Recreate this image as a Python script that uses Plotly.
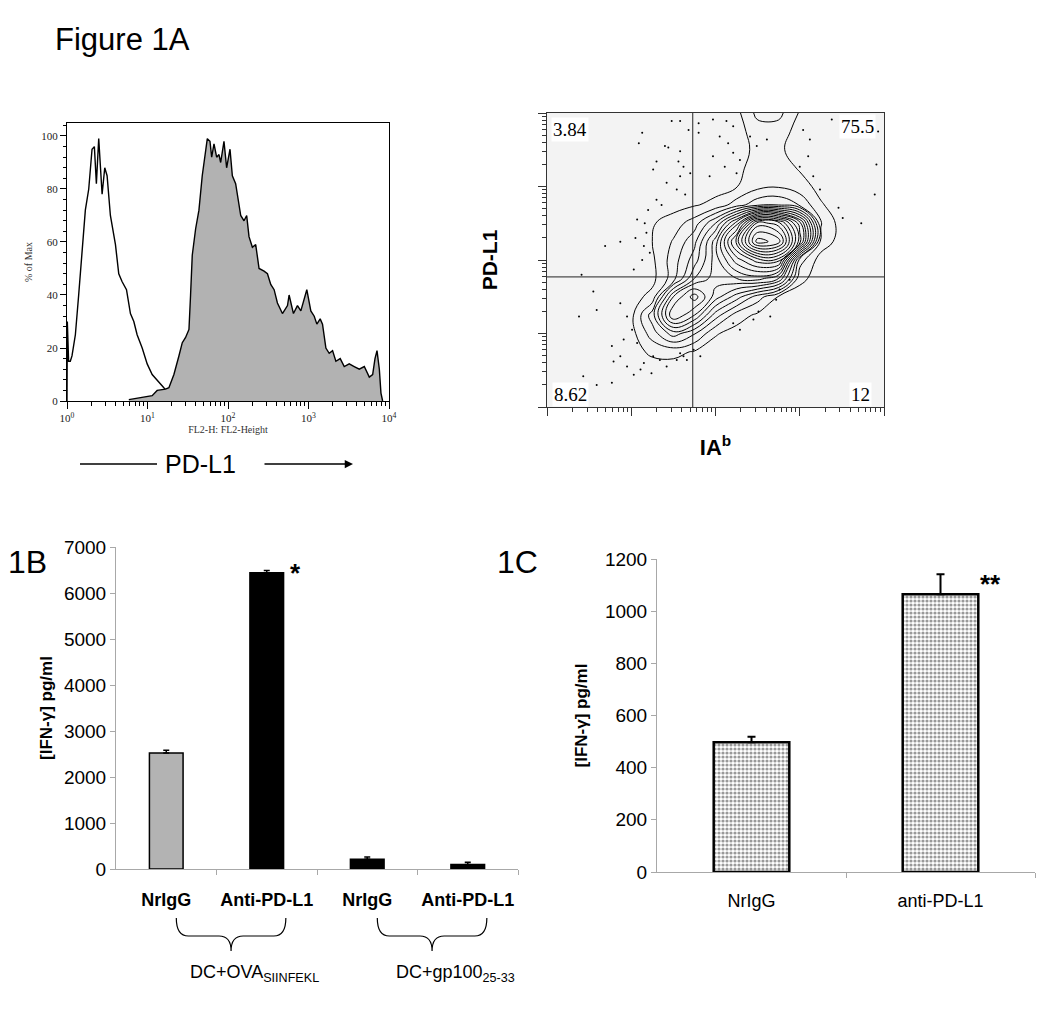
import math
import plotly.graph_objects as go

W, H = 1050, 1009
SANS = "Liberation Sans"
SERIF = "Liberation Serif"

# ---------------- Panel 1A (left): PD-L1 histogram (log10 fluorescence, % of max) ----------------
ctrl_log = [0.0, 0.004, 0.02, 0.041, 0.062, 0.104, 0.145, 0.187, 0.228, 0.27, 0.311, 0.34, 0.365,
            0.394, 0.436, 0.469, 0.498, 0.539, 0.602, 0.643, 0.685, 0.739, 0.788, 0.83, 0.871,
            0.934, 0.996, 1.058, 1.141, 1.203, 1.266, 1.328, 1.41]
ctrl_pct = [0, 30, 15, 15, 17, 25, 40, 55, 72, 80, 95, 96, 82, 99, 78, 88, 85, 70, 59, 48, 45, 42,
            33, 30, 25, 20, 14, 10, 7, 5, 3, 1, 0]

pdl1_log = [0.768, 0.871, 0.996, 1.058, 1.12, 1.224, 1.266, 1.328, 1.39, 1.432, 1.473, 1.515, 1.535,
            1.556, 1.598, 1.639, 1.68, 1.722, 1.743, 1.776, 1.797, 1.826, 1.859, 1.888, 1.909, 1.95,
            1.983, 2.025, 2.054, 2.095, 2.124, 2.158, 2.199, 2.232, 2.261, 2.303, 2.344, 2.386,
            2.448, 2.49, 2.531, 2.573, 2.614, 2.676, 2.739, 2.759, 2.813, 2.863, 2.905, 2.946,
            2.979, 3.029, 3.071, 3.104, 3.145, 3.174, 3.216, 3.257, 3.299, 3.34, 3.394, 3.444,
            3.506, 3.568, 3.631, 3.693, 3.755, 3.797, 3.826, 3.851, 3.88, 3.9, 3.921]
pdl1_pct = [0.5, 1, 1.5, 2, 4, 4.5, 5, 10, 17, 22, 24, 27, 40, 55, 65, 72, 85, 95, 99, 98, 92, 97,
            92, 93, 90, 98, 88, 95, 85, 82, 77, 70, 68, 70, 62, 58, 59, 50, 49, 48, 44, 42, 37, 33,
            36, 40, 33, 36, 34, 38, 42, 34, 32, 29, 31, 29, 20, 18, 19, 15, 16, 13, 14, 13, 12, 13,
            9, 10, 16, 19, 12, 3, 0]
hist_decades = [0, 1, 2, 3, 4]
hist_ticktext = ["10<sup>0</sup>", "10<sup>1</sup>", "10<sup>2</sup>", "10<sup>3</sup>", "10<sup>4</sup>"]
pct_ticks = [0, 20, 40, 60, 80, 100]

# ---------------- Panel 1A (right): IAb vs PD-L1 contour (log10 decades) ----------------
grid_x = [0.75, 1.0, 1.25, 1.5, 1.75, 2.0, 2.25, 2.5, 2.75, 3.0, 3.25, 3.5, 3.75]
grid_y = [0.25, 0.5, 0.75, 1.0, 1.25, 1.5, 1.75, 2.0, 2.25, 2.5, 2.75, 3.0, 3.25, 3.5, 3.75, 4.0]
density = [
    [0, 0, 0, 0, 0, 0, 0, 0, 0, 0, 0, 0, 0],
    [0, 0, 0, 0, 0, 0, 0, 0, 0, 0, 0, 0, 0],
    [0, 0.1, 0.7, 0.8, 0.4, 0, 0, 0, 0, 0, 0, 0, 0],
    [0, 0.1, 2.0, 4.0, 2.6, 0.6, 0.1, 0, 0, 0, 0, 0, 0],
    [0, 0.2, 3.0, 8.5, 6.5, 3.0, 1.0, 0.3, 0, 0, 0, 0, 0],
    [0, 0.1, 0.8, 6.5, 9.0, 6.0, 4.0, 2.0, 0.4, 0, 0, 0, 0],
    [0, 0, 0.2, 2.0, 5.5, 7.0, 7.5, 8.0, 6.5, 0.8, 0, 0, 0],
    [0, 0, 0.3, 2.0, 4.0, 7.0, 10, 12, 12, 2.0, 0, 0, 0],
    [0, 0, 0.5, 1.6, 3.2, 7.0, 13, 19, 18, 11, 1.2, 0, 0],
    [0, 0, 0.4, 1.0, 2.0, 4.5, 9, 16, 15, 10, 1.6, 0, 0],
    [0, 0, 0, 0.1, 0.4, 0.8, 2.0, 3.2, 3.4, 2.4, 0.6, 0, 0],
    [0, 0, 0, 0, 0, 0.1, 0.45, 1.2, 1.4, 0.9, 0.2, 0, 0],
    [0, 0, 0, 0, 0, 0, 0.2, 1.0, 1.0, 0.4, 0, 0, 0],
    [0, 0, 0, 0, 0, 0, 0, 0.8, 0.7, 0, 0, 0, 0],
    [0, 0, 0, 0, 0, 0, 0.1, 1.0, 1.0, 0.1, 0, 0, 0],
    [0, 0, 0, 0, 0, 0, 0.2, 1.8, 1.8, 0.4, 0, 0, 0],
]
dots_x = [1.48, 1.58, 1.68, 1.80, 1.80, 1.13, 1.09, 1.40, 1.44, 1.58, 1.30, 1.26, 1.56, 1.62, 1.70,
          1.58, 1.42, 1.54, 1.64, 1.30, 1.36, 1.20, 1.07, 1.16, 1.18, 1.05, 0.87, 1.15, 0.69, 1.22,
          1.13, 1.03, 0.41, 0.55, 0.38, 0.59, 0.87, 0.95, 1.01, 0.77, 0.79, 0.87, 0.95, 1.03, 1.15,
          1.24, 1.34, 1.42, 1.54, 1.62, 1.26, 0.59, 0.77, 0.43, 1.11, 0.91, 1.07,
          1.97, 2.13, 2.21, 2.05, 2.15, 2.21, 2.11, 2.25, 2.29, 1.97, 1.93, 2.41, 2.49, 2.61, 3.04,
          3.12, 3.38, 3.10, 3.00, 3.16, 3.24, 3.46, 3.51, 3.73, 3.89, 3.91, 3.93,
          2.88, 2.76, 2.72, 2.65, 2.45, 2.29, 2.21, 2.51, 1.74, 1.82, 1.66, 1.58]
dots_y = [3.89, 3.89, 3.77, 3.86, 3.73, 3.73, 3.59, 3.55, 3.53, 3.48, 3.34, 3.23, 3.34, 3.27, 3.18,
          3.14, 3.05, 2.96, 2.89, 2.82, 2.75, 2.68, 2.55, 2.50, 2.37, 2.30, 2.25, 2.19, 2.19, 2.10,
          2.00, 1.87, 1.80, 1.57, 1.23, 1.32, 1.41, 1.23, 1.05, 0.83, 0.62, 0.69, 0.55, 0.44, 0.60,
          0.46, 0.64, 0.55, 0.64, 0.69, 0.69, 0.30, 0.33, 0.42, 0.51, 0.92, 0.87,
          3.91, 3.89, 3.82, 3.68, 3.59, 3.46, 3.27, 3.18, 3.36, 3.41, 3.14, 3.68, 3.55, 3.64, 3.77,
          3.64, 3.91, 3.41, 3.27, 3.14, 2.96, 2.71, 2.57, 2.50, 2.89, 3.30, 3.75,
          1.73, 1.60, 1.46, 1.23, 1.19, 1.05, 1.14, 1.30, 0.78, 0.69, 0.64, 0.73]
gate_x = 1.73
gate_y = 1.77
quad_labels = ["3.84", "75.5", "8.62", "12"]

# ---------------- Panel 1B ----------------
b_labels = ["NrIgG", "Anti-PD-L1", "NrIgG", "Anti-PD-L1"]
b_vals = [2520, 6440, 210, 100]
b_err = [60, 50, 50, 45]
b_colors = ["#b3b3b3", "black", "black", "black"]
b_groups = ["DC+OVA<sub>SIINFEKL</sub>", "DC+gp100<sub>25-33</sub>"]
b_group_members = [(0, 1), (2, 3)]
b_ticks = [0, 1000, 2000, 3000, 4000, 5000, 6000, 7000]

# ---------------- Panel 1C ----------------
c_labels = ["NrIgG", "anti-PD-L1"]
c_vals = [497, 1065]
c_err = [22, 77]
c_ticks = [0, 200, 400, 600, 800, 1000, 1200]


def px(v):
    return v / W


def py(v):
    return 1 - v / H


minor_log = [d + math.log10(k) for d in range(4) for k in range(2, 10)]

fig = go.Figure()

# histogram
fig.add_trace(go.Scatter(x=ctrl_log, y=ctrl_pct, mode="lines", line=dict(color="black", width=1.4),
                         xaxis="x", yaxis="y", showlegend=False, hoverinfo="skip"))
fig.add_trace(go.Scatter(x=pdl1_log, y=pdl1_pct, mode="lines", fill="tozeroy", fillcolor="#b2b2b2",
                         line=dict(color="black", width=1.4), xaxis="x", yaxis="y",
                         showlegend=False, hoverinfo="skip"))

# contour panel
fig.add_trace(go.Scatter(x=dots_x, y=dots_y, mode="markers", marker=dict(color="black", size=2),
                         xaxis="x2", yaxis="y2", showlegend=False, hoverinfo="skip"))
fig.add_trace(go.Contour(x=grid_x, y=grid_y, z=density, xaxis="x2", yaxis="y2", autocontour=False,
                         contours=dict(start=0.5, end=18.5, size=1, coloring="lines"),
                         colorscale=[[0, "black"], [1, "black"]], showscale=False,
                         line=dict(width=1, smoothing=1.2), hoverinfo="skip"))

# 1B bars
fig.add_trace(go.Bar(x=list(range(len(b_vals))), y=b_vals, width=0.335, xaxis="x3", yaxis="y3",
                     marker=dict(color=b_colors, line=dict(color="black", width=1.5)),
                     error_y=dict(type="data", symmetric=False, array=b_err,
                                  arrayminus=[0] * len(b_err), color="black", thickness=1.5, width=3),
                     showlegend=False, hoverinfo="skip"))

# 1C bars
fig.add_trace(go.Bar(x=list(range(len(c_vals))), y=c_vals, width=0.4, xaxis="x4", yaxis="y4",
                     marker=dict(color="white",
                                 pattern=dict(shape=".", fgcolor="#333333", bgcolor="white",
                                              size=4, solidity=0.5),
                                 line=dict(color="black", width=2.5)),
                     error_y=dict(type="data", symmetric=False, array=c_err,
                                  arrayminus=[0] * len(c_err), color="black", thickness=2, width=4),
                     showlegend=False, hoverinfo="skip"))

gray = "#a8a8a8"
fig.update_layout(
    width=W, height=H, autosize=False,
    margin=dict(l=0, r=0, t=0, b=0, pad=0, autoexpand=False),
    paper_bgcolor="white", plot_bgcolor="white",
    font=dict(family=SANS, color="black"),
    xaxis=dict(domain=[px(67), px(389)], anchor="y", range=[0, 4], showline=True, mirror=True,
               linecolor="black", linewidth=1, ticks="outside", ticklen=7, tickcolor="black",
               tickvals=hist_decades, ticktext=hist_ticktext, automargin=False,
               tickfont=dict(family=SERIF, size=11, color="#222"),
               minor=dict(tickvals=minor_log, ticks="outside", ticklen=4, tickcolor="black"),
               showgrid=False, zeroline=False,
               title=dict(text="FL2-H: FL2-Height", font=dict(family=SERIF, size=10, color="#333"),
                          standoff=2)),
    yaxis=dict(domain=[py(401), py(123)], anchor="x", range=[0, 104.9], showline=True, mirror=True,
               linecolor="black", linewidth=1, ticks="outside", ticklen=6, tickcolor="black",
               tickvals=pct_ticks, tickfont=dict(family=SERIF, size=11, color="#222"),
               minor=dict(dtick=4, ticks="outside", ticklen=3, tickcolor="black"),
               showgrid=False, zeroline=False, automargin=False,
               title=dict(text="% of Max", font=dict(family=SERIF, size=10, color="#333"), standoff=6)),
    xaxis2=dict(domain=[px(547), px(884)], anchor="y2", range=[0, 4], showline=True, mirror=True,
                linecolor="#333", linewidth=1, ticks="outside", ticklen=8, tickcolor="#333",
                tickvals=[0, 1, 2, 3, 4], showticklabels=False, automargin=False,
                minor=dict(tickvals=minor_log, ticks="outside", ticklen=4, tickcolor="#333"),
                showgrid=False, zeroline=False,
                title=dict(text="<b>IA<sup>b</sup></b>", font=dict(size=22), standoff=24)),
    yaxis2=dict(domain=[py(407), py(113)], anchor="x2", range=[0, 4], showline=True, mirror=True,
                linecolor="#333", linewidth=1, ticks="outside", ticklen=8, tickcolor="#333",
                tickvals=[0, 1, 2, 3, 4], showticklabels=False, automargin=False,
                minor=dict(tickvals=minor_log, ticks="outside", ticklen=4, tickcolor="#333"),
                showgrid=False, zeroline=False,
                title=dict(text="<b>PD-L1</b>", font=dict(size=21), standoff=34)),
    xaxis3=dict(domain=[px(116), px(518)], anchor="y3", range=[-0.5, 3.5], showline=True,
                linecolor=gray, linewidth=1, ticks="", tickvals=list(range(len(b_labels))),
                ticktext=["<b>%s</b>" % t for t in b_labels], tickfont=dict(size=18),
                ticklabelstandoff=14, automargin=False,
                minor=dict(tickvals=[0.5, 1.5, 2.5, 3.5], ticks="outside", ticklen=5, tickcolor=gray),
                showgrid=False, zeroline=False),
    yaxis3=dict(domain=[py(869), py(547)], anchor="x3", range=[0, 7000], showline=True,
                linecolor=gray, linewidth=1, ticks="outside", ticklen=5, tickcolor=gray,
                tickvals=b_ticks, tickfont=dict(size=19), showgrid=False, zeroline=False,
                automargin=False,
                title=dict(text="<b>[IFN-γ] pg/ml</b>", font=dict(size=17), standoff=6)),
    xaxis4=dict(domain=[px(657), px(1035)], anchor="y4", range=[-0.5, 1.5], showline=True,
                linecolor=gray, linewidth=1, ticks="", tickvals=list(range(len(c_labels))),
                ticktext=c_labels, tickfont=dict(size=18), ticklabelstandoff=12, automargin=False,
                minor=dict(tickvals=[0.5, 1.5], ticks="outside", ticklen=5, tickcolor=gray),
                showgrid=False, zeroline=False),
    yaxis4=dict(domain=[py(872), py(559)], anchor="x4", range=[0, 1200], showline=True,
                linecolor=gray, linewidth=1, ticks="outside", ticklen=5, tickcolor=gray,
                tickvals=c_ticks, tickfont=dict(size=19), showgrid=False, zeroline=False,
                automargin=False,
                title=dict(text="<b>[IFN-γ] pg/ml</b>", font=dict(size=17), standoff=12)),
)

shapes = [
    dict(type="rect", xref="x2 domain", yref="y2 domain", x0=0, x1=1, y0=0, y1=1,
         fillcolor="#f3f3f3", line=dict(width=0), layer="below"),
    dict(type="line", xref="x2", yref="y2 domain", x0=gate_x, x1=gate_x, y0=0, y1=1,
         line=dict(color="#222", width=1)),
    dict(type="line", xref="x2 domain", yref="y2", x0=0, x1=1, y0=gate_y, y1=gate_y,
         line=dict(color="#222", width=1)),
    dict(type="line", xref="paper", yref="paper", x0=px(80), x1=px(157), y0=py(464), y1=py(464),
         line=dict(color="black", width=1.5)),
]

# curly braces under the 1B groups (category units in x, paper units in y)
yt, ym, yb = py(918), py(936), py(951)
for (i0, i1) in b_group_members:
    x0, x1 = i0 + 0.1, i1 + 0.19
    xc = (x0 + x1) / 2
    d = 0.12
    path = (f"M {x0},{yt} Q {x0},{ym} {x0 + d},{ym} L {xc - d},{ym} Q {xc},{ym} {xc},{yb} "
            f"Q {xc},{ym} {xc + d},{ym} L {x1 - d},{ym} Q {x1},{ym} {x1},{yt}")
    shapes.append(dict(type="path", xref="x3", yref="paper", path=path,
                       line=dict(color="black", width=1.2)))
fig.update_layout(shapes=shapes)

ann = [
    dict(text="Figure 1A", x=px(122), y=py(39), xref="paper", yref="paper", showarrow=False,
         font=dict(size=31), xanchor="center", yanchor="middle"),
    dict(text="1B", x=px(27), y=py(562), xref="paper", yref="paper", showarrow=False,
         font=dict(size=32), xanchor="center", yanchor="middle"),
    dict(text="1C", x=px(517), y=py(562), xref="paper", yref="paper", showarrow=False,
         font=dict(size=32), xanchor="center", yanchor="middle"),
    dict(text="PD-L1", x=px(200), y=py(464), xref="paper", yref="paper", showarrow=False,
         font=dict(size=25), xanchor="center", yanchor="middle"),
    dict(text="", x=px(353), y=py(464), xref="paper", yref="paper", showarrow=True,
         ax=-90, ay=0, arrowhead=2, arrowsize=1.1, arrowwidth=1.5, arrowcolor="black"),
    # quadrant percentages
    dict(text=quad_labels[0], xref="x2 domain", yref="y2 domain", x=0.012, y=0.985, xanchor="left",
         yanchor="top", showarrow=False, font=dict(family=SERIF, size=19), bgcolor="white"),
    dict(text=quad_labels[1], xref="x2 domain", yref="y2 domain", x=0.975, y=0.995, xanchor="right",
         yanchor="top", showarrow=False, font=dict(family=SERIF, size=19), bgcolor="white"),
    dict(text=quad_labels[2], xref="x2 domain", yref="y2 domain", x=0.015, y=0.0, xanchor="left",
         yanchor="bottom", showarrow=False, font=dict(family=SERIF, size=19), bgcolor="white"),
    dict(text=quad_labels[3], xref="x2 domain", yref="y2 domain", x=0.965, y=0.0, xanchor="right",
         yanchor="bottom", showarrow=False, font=dict(family=SERIF, size=19), bgcolor="white"),
    # significance marks
    dict(text="<b>*</b>", xref="x3", yref="y3", x=1, y=b_vals[1], xshift=29, showarrow=False,
         font=dict(size=26), xanchor="center", yanchor="middle"),
    dict(text="<b>**</b>", xref="x4", yref="y4", x=1, y=c_vals[1], xshift=50, yshift=10,
         showarrow=False, font=dict(size=26), xanchor="center", yanchor="middle"),
]
for (i0, i1), g in zip(b_group_members, b_groups):
    xc = (i0 + 0.1 + i1 + 0.19) / 2
    ann.append(dict(text=g, xref="x3", yref="paper", x=xc, y=py(973), xshift=23, showarrow=False,
                    font=dict(size=18), xanchor="center", yanchor="middle"))
fig.update_layout(annotations=ann)

fig.write_html("out.html", config={"displayModeBar": False},
               post_script="document.body.style.margin='0px';")
